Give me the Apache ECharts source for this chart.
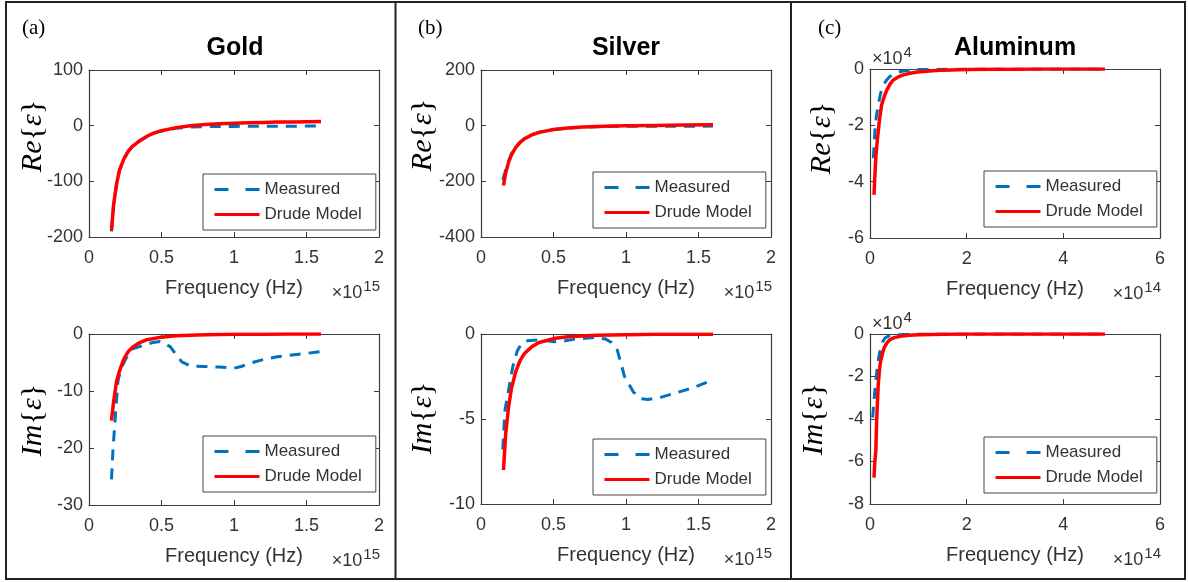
<!DOCTYPE html>
<html>
<head>
<meta charset="utf-8">
<script src="https://cdn.jsdelivr.net/npm/echarts@6/dist/echarts.min.js"></script>
<style>
  html, body { margin: 0; padding: 0; background: #fff; }
  #chart { width: 1188px; height: 582px; }
</style>
</head>
<body>
<div id="chart"></div>
<script>
// ---- Gold: frequency in units of 1e15 Hz ----
const goldReMeasX  = [0.155, 0.17, 0.19, 0.21, 0.24, 0.27, 0.30, 0.35, 0.40, 0.45, 0.50, 0.60, 0.70, 0.80, 0.90, 1.00, 1.10, 1.20, 1.30, 1.40, 1.50, 1.60];
const goldReMeasY  = [-190, -142, -106, -81, -60, -46, -37, -27, -19.5, -13.5, -9.5, -4.5, -2.5, -1.8, -1.5, -1.3, -1.2, -1.2, -1.1, -1.0, -0.8, -0.5];
const goldReDrudeX = [0.155, 0.17, 0.19, 0.21, 0.24, 0.27, 0.30, 0.35, 0.40, 0.45, 0.50, 0.60, 0.70, 0.80, 0.90, 1.00, 1.10, 1.20, 1.30, 1.40, 1.50, 1.60];
const goldReDrudeY = [-188, -141, -105, -80, -60, -46, -37, -27, -19, -13, -9, -3.5, -0.3, 2, 3.5, 4.5, 5.3, 5.9, 6.4, 6.7, 7.0, 7.3];

const goldImMeasX  = [0.155, 0.165, 0.18, 0.20, 0.22, 0.25, 0.30, 0.37, 0.44, 0.49, 0.56, 0.60, 0.64, 0.70, 0.80, 0.90, 1.00, 1.05, 1.10, 1.20, 1.30, 1.40, 1.50, 1.60];
const goldImMeasY  = [-25.5, -20.5, -15, -8.2, -6.2, -4.5, -2.6, -2.0, -1.5, -1.3, -2.2, -3.6, -4.9, -5.6, -5.7, -5.8, -6.0, -5.7, -5.2, -4.5, -4.0, -3.7, -3.4, -3.1];
const goldImDrudeX = [0.155, 0.17, 0.19, 0.21, 0.24, 0.27, 0.30, 0.35, 0.40, 0.50, 0.60, 0.70, 0.80, 1.00, 1.20, 1.40, 1.60];
const goldImDrudeY = [-15.2, -11.8, -8.3, -6.5, -4.4, -3.1, -2.3, -1.5, -1.0, -0.55, -0.3, -0.2, -0.12, -0.06, -0.04, -0.02, -0.02];

// ---- Silver: frequency in units of 1e15 Hz ----
const silverReMeasX  = [0.15, 0.17, 0.19, 0.21, 0.24, 0.27, 0.30, 0.35, 0.40, 0.50, 0.60, 0.70, 0.80, 0.90, 1.00, 1.20, 1.40, 1.60];
const silverReMeasY  = [-195, -160, -127, -101, -76, -59, -46, -33, -24, -14, -9, -5.5, -3.5, -2.5, -2, -2, -2, -1.5];
const silverReDrudeX = [0.155, 0.17, 0.19, 0.21, 0.24, 0.27, 0.30, 0.35, 0.40, 0.50, 0.60, 0.70, 0.80, 0.90, 1.00, 1.20, 1.40, 1.60];
const silverReDrudeY = [-215, -170, -132, -105, -78, -60, -47, -33, -24, -14, -8.5, -5, -3, -1.5, -0.5, 1, 2, 3];

const silverImMeasX  = [0.15, 0.165, 0.19, 0.22, 0.25, 0.28, 0.32, 0.39, 0.45, 0.51, 0.58, 0.65, 0.72, 0.79, 0.86, 0.90, 0.94, 0.99, 1.05, 1.10, 1.15, 1.25, 1.35, 1.45, 1.60];
const silverImMeasY  = [-6.8, -4.5, -3.3, -1.9, -1.0, -0.55, -0.4, -0.35, -0.4, -0.45, -0.4, -0.3, -0.25, -0.2, -0.3, -0.5, -0.95, -2.5, -3.4, -3.8, -3.85, -3.7, -3.45, -3.2, -2.7];
const silverImDrudeX = [0.155, 0.17, 0.19, 0.21, 0.24, 0.27, 0.30, 0.35, 0.40, 0.50, 0.60, 0.80, 1.00, 1.20, 1.40, 1.60];
const silverImDrudeY = [-8.0, -5.9, -4.3, -3.2, -2.2, -1.55, -1.15, -0.75, -0.5, -0.27, -0.16, -0.07, -0.04, -0.02, -0.01, -0.01];

// ---- Aluminum: frequency in units of 1e14 Hz, permittivity in units of 1e4 ----
const alReMeasX  = [0.07, 0.10, 0.13, 0.17, 0.22, 0.28, 0.34, 0.41, 0.50, 0.62, 0.72, 0.83, 1.0, 1.5, 2, 3, 4, 4.86];
const alReMeasY  = [-3.17, -2.22, -1.7, -1.28, -0.85, -0.57, -0.4, -0.27, -0.17, -0.1, -0.06, -0.04, -0.02, -0.01, 0, 0, 0, 0];
const alReDrudeX = [0.083, 0.10, 0.124, 0.15, 0.17, 0.20, 0.24, 0.30, 0.35, 0.42, 0.48, 0.60, 0.69, 0.85, 1.03, 1.3, 1.51, 2, 2.5, 3, 3.5, 4, 4.5, 4.86];
const alReDrudeY = [-4.47, -3.8, -3.05, -2.55, -2.22, -1.75, -1.28, -0.95, -0.74, -0.52, -0.39, -0.27, -0.21, -0.14, -0.1, -0.06, -0.04, -0.02, -0.01, -0.005, 0, 0, 0, 0];

const alImMeasX  = [0.055, 0.08, 0.10, 0.125, 0.15, 0.18, 0.22, 0.26, 0.31, 0.38, 0.48, 0.60, 0.80, 1.0, 2, 3, 4, 4.86];
const alImMeasY  = [-3.94, -3.2, -2.69, -2.1, -1.6, -1.1, -0.66, -0.38, -0.19, -0.1, -0.05, -0.03, -0.01, 0, 0, 0, 0, 0];
const alImDrudeX = [0.083, 0.10, 0.12, 0.14, 0.17, 0.20, 0.22, 0.26, 0.29, 0.35, 0.41, 0.50, 0.62, 0.80, 1.03, 1.5, 2, 3, 4, 4.86];
const alImDrudeY = [-6.76, -6.0, -5.5, -3.94, -2.38, -1.6, -1.28, -0.9, -0.66, -0.42, -0.27, -0.17, -0.11, -0.06, -0.03, -0.01, 0, 0, 0, 0];

// ---- Text ----
const materials   = ['Gold', 'Silver', 'Aluminum'];
const panelTags   = ['(a)', '(b)', '(c)'];
const seriesNames = ['Measured', 'Drude Model'];
const xAxisName   = 'Frequency (Hz)';
const xExponents  = ['15', '15', '14'];

// ---- Layout of the six plots (pixels) ----
const SANS = '"Liberation Sans", Arial, sans-serif';
const SERIF = '"Liberation Serif", "Times New Roman", serif';
const AXIS_COLOR = '#3c3c3c';
const TEXT_COLOR = '#333333';

const panels = [
  { col: 0, part: 'Re', grid: { left: 89,  top: 70,  width: 290, height: 167 }, xMax: 2, xInt: 0.5, yMin: -200, yMax: 100, yInt: 100,
    meas: [goldReMeasX, goldReMeasY], drude: [goldReDrudeX, goldReDrudeY], legend: { left: 203, top: 174 }, ylab: [33, 136] },
  { col: 0, part: 'Im', grid: { left: 89,  top: 334, width: 290, height: 171 }, xMax: 2, xInt: 0.5, yMin: -30, yMax: 0, yInt: 10,
    meas: [goldImMeasX, goldImMeasY], drude: [goldImDrudeX, goldImDrudeY], legend: { left: 203, top: 436 }, ylab: [33, 420] },
  { col: 1, part: 'Re', grid: { left: 481, top: 70,  width: 290, height: 167 }, xMax: 2, xInt: 0.5, yMin: -400, yMax: 200, yInt: 200,
    meas: [silverReMeasX, silverReMeasY], drude: [silverReDrudeX, silverReDrudeY], legend: { left: 593, top: 172 }, ylab: [423, 135] },
  { col: 1, part: 'Im', grid: { left: 481, top: 334, width: 290, height: 170 }, xMax: 2, xInt: 0.5, yMin: -10, yMax: 0, yInt: 5,
    meas: [silverImMeasX, silverImMeasY], drude: [silverImDrudeX, silverImDrudeY], legend: { left: 593, top: 439 }, ylab: [423, 418] },
  { col: 2, part: 'Re', grid: { left: 870, top: 69,  width: 290, height: 169 }, xMax: 6, xInt: 2, yMin: -6, yMax: 0, yInt: 2,
    meas: [alReMeasX, alReMeasY], drude: [alReDrudeX, alReDrudeY], legend: { left: 984, top: 171 }, ylab: [822, 138], yExp: '4' },
  { col: 2, part: 'Im', grid: { left: 870, top: 334, width: 290, height: 170 }, xMax: 6, xInt: 2, yMin: -8, yMax: 0, yInt: 2,
    meas: [alImMeasX, alImMeasY], drude: [alImDrudeX, alImDrudeY], legend: { left: 984, top: 437 }, ylab: [814, 419], yExp: '4' }
];

const zip = (xs, ys) => xs.map((x, i) => [x, ys[i]]);

const grids = [], xAxes = [], yAxes = [], series = [], legends = [], graphics = [];

const multiplierRich = {
  a: { fontFamily: SANS, fontSize: 18, fill: TEXT_COLOR },
  s: { fontFamily: SANS, fontSize: 15, fill: TEXT_COLOR, padding: [0, 0, 13, 1] }
};

panels.forEach((p, i) => {
  grids.push(Object.assign({ containLabel: false }, p.grid));
  const tick = { show: true, inside: true, length: 5, lineStyle: { color: AXIS_COLOR, width: 1 } };
  const line = { show: true, onZero: false, lineStyle: { color: AXIS_COLOR, width: 1.2 } };
  // bottom axis with labels
  xAxes.push({
    type: 'value', gridIndex: i, position: 'bottom', min: 0, max: p.xMax, interval: p.xInt,
    axisLine: line, axisTick: tick, splitLine: { show: false },
    axisLabel: { color: TEXT_COLOR, fontFamily: SANS, fontSize: 18, margin: 12 },
    name: xAxisName, nameLocation: 'middle', nameGap: 41,
    nameTextStyle: { color: TEXT_COLOR, fontFamily: SANS, fontSize: 20 }
  });
  // top box edge
  xAxes.push({
    type: 'value', gridIndex: i, position: 'top', min: 0, max: p.xMax, interval: p.xInt,
    axisLine: line, axisTick: tick, axisLabel: { show: false }, splitLine: { show: false }
  });
  yAxes.push({
    type: 'value', gridIndex: i, position: 'left', min: p.yMin, max: p.yMax, interval: p.yInt,
    axisLine: line, axisTick: tick, splitLine: { show: false },
    axisLabel: { color: TEXT_COLOR, fontFamily: SANS, fontSize: 18, margin: 6 }
  });
  yAxes.push({
    type: 'value', gridIndex: i, position: 'right', min: p.yMin, max: p.yMax, interval: p.yInt,
    axisLine: line, axisTick: tick, axisLabel: { show: false }, splitLine: { show: false }
  });

  series.push({
    type: 'line', name: seriesNames[0], xAxisIndex: 2 * i, yAxisIndex: 2 * i,
    data: zip(p.meas[0], p.meas[1]), symbol: 'none', showSymbol: false, z: 2,
    lineStyle: { color: '#0072BD', width: 3, type: [11, 8] }, itemStyle: { color: '#0072BD' }
  });
  series.push({
    type: 'line', name: seriesNames[1], xAxisIndex: 2 * i, yAxisIndex: 2 * i,
    data: zip(p.drude[0], p.drude[1]), symbol: 'none', showSymbol: false, z: 3,
    lineStyle: { color: '#FF0000', width: 3.5 }, itemStyle: { color: '#FF0000' }
  });

  legends.push({
    left: p.legend.left, top: p.legend.top, orient: 'vertical',
    data: [
      { name: seriesNames[0], lineStyle: { type: [14, 17] } },
      { name: seriesNames[1] }
    ],
    itemWidth: 45, itemHeight: 16, itemGap: 8, padding: [7, 14, 7, 10],
    backgroundColor: '#fff', borderColor: '#444', borderWidth: 1, borderRadius: 0,
    selectedMode: false,
    itemStyle: { opacity: 0, borderWidth: 0 },
    lineStyle: { width: 3 },
    textStyle: { color: TEXT_COLOR, fontFamily: SANS, fontSize: 17 }
  });

  // y-axis caption: Re{ε} / Im{ε}
  graphics.push({
    type: 'text', x: p.ylab[0], y: p.ylab[1], rotation: Math.PI / 2,
    style: {
      text: '{i|' + p.part + '}{{i|ε}}', align: 'center', verticalAlign: 'middle',
      fontFamily: SERIF, fontSize: 30, fill: '#000',
      rich: { i: { fontStyle: 'italic', fontFamily: SERIF, fontSize: 30, fill: '#000' } }
    }
  });

  // x-axis multiplier
  const gx = p.grid.left + p.grid.width, gy = p.grid.top + p.grid.height + 56;
  graphics.push({
    type: 'text', x: gx + 1, y: gy, style: {
      text: '{a|×10}{s|' + xExponents[p.col] + '}', align: 'right', verticalAlign: 'middle',
      rich: multiplierRich
    }
  });
  // y-axis multiplier for the aluminum plots
  if (p.yExp) {
    graphics.push({
      type: 'text', x: p.grid.left + 2, y: p.grid.top - 10, style: {
        text: '{a|×10}{s|' + p.yExp + '}', align: 'left', verticalAlign: 'middle',
        rich: multiplierRich
      }
    });
  }
});

// column titles and panel tags
const titleCenters = [235, 626, 1015];
const tagLeft = [22, 418, 818];
const titles = materials.map((m, c) => ({
  text: m, left: titleCenters[c], top: 36, textAlign: 'center', padding: 0,
  textStyle: { fontFamily: SANS, fontSize: 25, fontWeight: 'bold', color: '#000' }
}));
materials.forEach((m, c) => {
  graphics.push({
    type: 'text', x: tagLeft[c], y: 28,
    style: { text: panelTags[c], align: 'left', verticalAlign: 'middle', fontFamily: SERIF, fontSize: 21, fill: '#000' }
  });
});

// frame around the three columns
const frameStyle = { stroke: '#222', lineWidth: 2 };
graphics.push(
  { type: 'rect', shape: { x: 6, y: 2, width: 1179, height: 577 }, style: Object.assign({ fill: 'none' }, frameStyle), z: 10 },
  { type: 'line', shape: { x1: 395.5, y1: 2, x2: 395.5, y2: 579 }, style: frameStyle, z: 10 },
  { type: 'line', shape: { x1: 791, y1: 2, x2: 791, y2: 579 }, style: frameStyle, z: 10 }
);

const chart = echarts.init(document.getElementById('chart'), null, { renderer: 'canvas' });
chart.setOption({
  animation: false,
  backgroundColor: '#fff',
  title: titles,
  grid: grids,
  xAxis: xAxes,
  yAxis: yAxes,
  legend: legends,
  series: series,
  graphic: graphics
});
</script>
</body>
</html>
